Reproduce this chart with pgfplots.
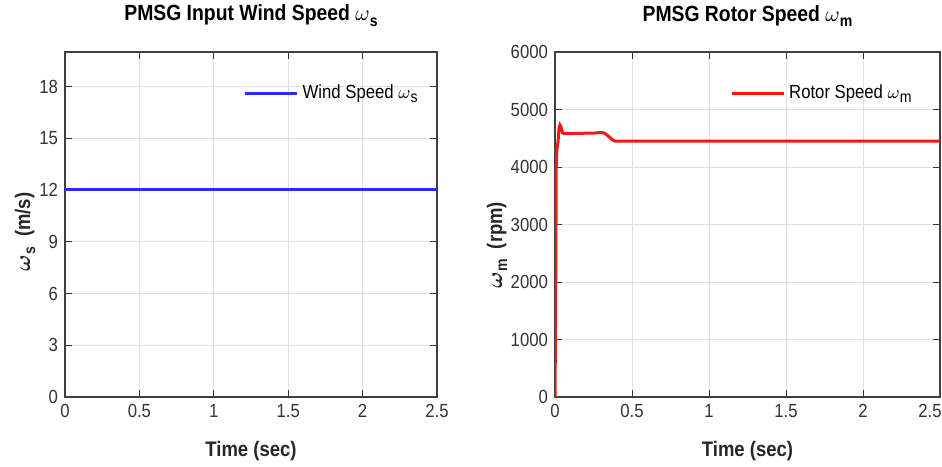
\documentclass[border=0pt]{standalone}
\usepackage{amsmath}
\usepackage{fontspec}
\setmainfont{Liberation Sans}[FakeStretch=0.88]
\usepackage{pgfplots}
\pgfplotsset{compat=1.18}
\definecolor{mblue}{RGB}{40,40,255}
\definecolor{mred}{RGB}{255,20,20}
\begin{document}
\begin{tikzpicture}
\useasboundingbox (-32.5pt,-34.5pt) rectangle (438.5pt,198.5pt);
\pgfplotsset{
 mystyle/.style={
  scale only axis, height=172.5pt,
  xmin=0, xmax=2.5, xtick={0,0.5,1,1.5,2,2.5},
  grid=major, grid style={black!12, line width=0.4pt},
  axis line style={black!75, line width=0.6pt},
  tick style={black!80, line width=0.5pt}, major tick length=3.5pt,
  tick align=inside,
  ticklabel style={font=\fontsize{9.5}{10}\selectfont, text=black!80},
  /pgf/number format/assume math mode=true,
  /pgf/number format/1000 sep={},
  xtick pos=both, ytick pos=both,
  xticklabel pos=lower, yticklabel pos=left,
  xlabel style={font=\bfseries\fontsize{10.5}{12}\selectfont, text=black!85, at={(axis description cs:0.5,0)}, anchor=center, yshift=-27pt},
  title style={font=\bfseries\fontsize{11}{13}\selectfont, at={(axis description cs:0.5,1)}, anchor=base, yshift=9.5pt},
  legend style={draw=none, fill=none, font=\fontsize{9.5}{11}\selectfont, anchor=east},
  legend image code/.code={\draw[#1] (0pt,0pt) -- (26pt,0pt);},
  legend cell align=left,
 }
}
\begin{axis}[mystyle, width=186pt,
  xticklabels={0,0.5,1,1.5,2,2.5},
  ymin=0, ymax=20, ytick={0,3,6,9,12,15,18},
  title={PMSG Input Wind Speed $\omega$\raisebox{-0.45ex}{\fontsize{8}{9}\selectfont s}},
  xlabel={Time (sec)},
  ylabel={$\boldsymbol{\omega}$\raisebox{-0.45ex}{\fontsize{8}{9}\selectfont\bfseries s}\ \ (m/s)},
  ylabel style={font=\bfseries\fontsize{10.5}{12}\selectfont, text=black!85, at={(axis description cs:-0.1075,0.478)}, anchor=center},
  legend style={at={(axis description cs:1,0.881)}, xshift=-4.5pt},
]
\addplot[mblue, line width=1.5pt] coordinates {(0,12) (2.5,12)};
\addlegendentry{Wind Speed $\omega$\raisebox{-0.45ex}{\fontsize{8}{9}\selectfont s}}
\end{axis}
\begin{axis}[mystyle, width=192.5pt, at={(245pt,0pt)},
  xticklabels={0,0.5,1,1.5,2,{\kern-10pt 2.5}},
  ymin=0, ymax=6000, ytick={0,1000,2000,3000,4000,5000,6000},
  title={PMSG Rotor Speed $\omega$\raisebox{-0.45ex}{\fontsize{8}{9}\selectfont m}},
  xlabel={Time (sec)},
  ylabel={$\boldsymbol{\omega}$\raisebox{-0.45ex}{\fontsize{8}{9}\selectfont\bfseries m}\ \ (rpm)},
  ylabel style={font=\bfseries\fontsize{10.5}{12}\selectfont, text=black!85, at={(axis description cs:-0.1506,0.44)}, anchor=center},
  legend style={at={(axis description cs:1,0.881)}, xshift=-9pt},
]
\addplot[mred, line width=1.5pt] coordinates {
 (0,0) (0.004,1500) (0.008,4000) (0.012,4300) (0.02,4450) (0.026,4680) (0.032,4730)
 (0.04,4690) (0.048,4600) (0.058,4580) (0.15,4585) (0.25,4590) (0.3,4600) (0.32,4590)
 (0.345,4540) (0.37,4480) (0.39,4450) (0.6,4450) (1.0,4452) (1.5,4450) (2.0,4452) (2.5,4450)};
\addlegendentry{Rotor Speed $\omega$\raisebox{-0.45ex}{\fontsize{8}{9}\selectfont m}}
\end{axis}
\end{tikzpicture}
\end{document}
